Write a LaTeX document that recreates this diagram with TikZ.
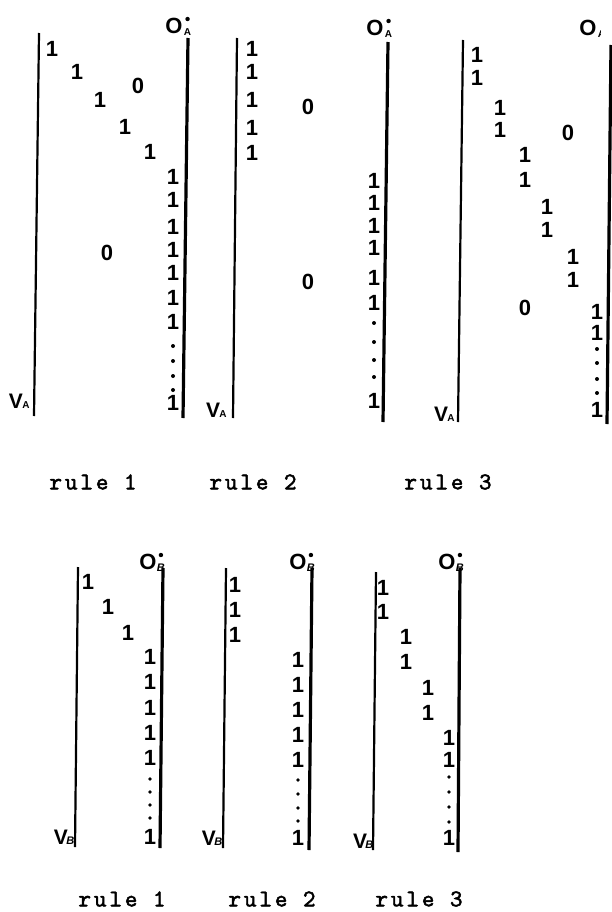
\documentclass[tikz,border=0pt]{standalone}
\usepackage{fontspec}
\setmainfont{Liberation Sans}
\newfontfamily\typewr{lmmono10-regular.otf}[LetterSpace=12, FakeBold=2]
\usetikzlibrary{positioning}
\tikzset{
  bit/.style={font=\bfseries\fontsize{22}{22}\selectfont, inner sep=0pt},
  olab/.style={font=\bfseries\fontsize{22}{22}\selectfont, inner sep=0pt},
  vlab/.style={font=\bfseries\fontsize{21}{21}\selectfont, inner sep=0pt},
  subup/.style={font=\bfseries\fontsize{10}{10}\selectfont, inner sep=0pt},
  subit/.style={font=\bfseries\itshape\fontsize{11}{11}\selectfont, inner sep=0pt},
  lwall/.style={line width=2.2pt},
  rwall/.style={line width=3.2pt},
  rulelab/.style={font=\typewr\fontsize{24}{24}\selectfont, inner sep=0pt},
  vdot/.style={fill=black},
}

\begin{document}
\begin{tikzpicture}[x=1pt, y=-1pt]
        \useasboundingbox (0,0) rectangle (612,912);

        \draw[lwall] (39,33) -- (34,416);
        \draw[rwall] (188,38) -- (183,418);
        \node[olab] (oa1) at (174,26) {O};
        \node[subup, anchor=south west] (oa1s) at ([xshift=1pt,yshift=-2pt]oa1.south east) {A};
        \fill[vdot] ([yshift=-1pt]oa1s.north |- oa1.north) circle (2.2);
        \node[vlab] (va1) at (16,401) {V};
        \node[subup, anchor=south west] (va1s) at ([xshift=-1pt]va1.south east) {A};
        \node[bit] (a1d1) at (52,49) {1};
        \node[bit] (a1d2) at (77,72) {1};
        \node[bit] (a1d3) at (100,100) {1};
        \node[bit] (a1d4) at (125,127) {1};
        \node[bit] (a1d5) at (150,152) {1};
        \node[bit] (a1z1) at (138,86) {0};
        \node[bit] (a1z2) at (107,253) {0};
        \foreach \y [count=\i] in {177,200,227,250,273,298,322}
          \node[bit] (a1c\i) at (173,\y) {1};
        \foreach \y in {346,361,376,390}
          \fill[vdot] (173,\y) circle (2);
        \node[bit] (a1end) at (173,403) {1};

        \draw[lwall] (237,38) -- (233,418);
        \draw[rwall] (388,42) -- (383,422);
        \node[olab] (oa2) at (375,28) {O};
        \node[subup, anchor=south west] (oa2s) at ([xshift=1pt,yshift=-2pt]oa2.south east) {A};
        \fill[vdot] ([yshift=-1pt]oa2s.north |- oa2.north) circle (2.2);
        \node[vlab] (va2) at (213,410) {V};
        \node[subup, anchor=south west] (va2s) at ([xshift=-1pt]va2.south east) {A};
        \foreach \y [count=\i] in {49,72,100,128,153}
          \node[bit] (a2d\i) at (252,\y) {1};
        \node[bit] (a2z1) at (308,107) {0};
        \node[bit] (a2z2) at (308,282) {0};
        \foreach \y [count=\i] in {181,203,226,248,278,303}
          \node[bit] (a2c\i) at (374,\y) {1};
        \foreach \y in {323,342,360,377}
          \fill[vdot] (374,\y) circle (2);
        \node[bit] (a2end) at (374,401) {1};

        \draw[lwall] (463,40) -- (458,422);
        \draw[rwall] (611,45) -- (607,424);
        \begin{scope}
          \clip (560,0) rectangle (600,40);
          \node[olab] (oa3) at (588,28) {O};
          \node[subup, anchor=south west] (oa3s) at ([xshift=1pt,yshift=-2pt]oa3.south east) {A};
        \end{scope}
        \node[vlab] (va3) at (441,414) {V};
        \node[subup, anchor=south west] (va3s) at ([xshift=-1pt]va3.south east) {A};
        \node[bit] (a3d1) at (477,55) {1};
        \node[bit] (a3d2) at (477,78) {1};
        \node[bit] (a3d3) at (500,108) {1};
        \node[bit] (a3d4) at (500,130) {1};
        \node[bit] (a3d5) at (525,155) {1};
        \node[bit] (a3d6) at (525,180) {1};
        \node[bit] (a3d7) at (547,207) {1};
        \node[bit] (a3d8) at (547,230) {1};
        \node[bit] (a3d9) at (573,257) {1};
        \node[bit] (a3d10) at (573,280) {1};
        \node[bit] (a3z1) at (568,133) {0};
        \node[bit] (a3z2) at (525,308) {0};
        \node[bit] (a3c1) at (597,312) {1};
        \node[bit] (a3c2) at (597,333) {1};
        \foreach \y in {349,363,379,393}
          \fill[vdot] (597,\y) circle (2);
        \node[bit] (a3end) at (597,410) {1};

        \node[rulelab] (ra1) at (93,482) {rule 1};
        \node[rulelab] (ra2) at (253,482) {rule 2};
        \node[rulelab] (ra3) at (448,482) {rule 3};

        \draw[lwall] (78,567) -- (75,847);
        \draw[rwall] (163,568) -- (160,848);
        \node[olab] (ob1) at (148,562) {O};
        \node[subit, anchor=south west] (ob1s) at ([xshift=0pt,yshift=-2pt]ob1.south east) {B};
        \fill[vdot] ([yshift=-1pt]ob1s.north |- ob1.north) circle (2.2);
        \node[vlab] (vb1) at (61,837) {V};
        \node[subit, anchor=south west] (vb1s) at ([xshift=-2pt]vb1.south east) {B};
        \node[bit] (b1d1) at (88,582) {1};
        \node[bit] (b1d2) at (108,607) {1};
        \node[bit] (b1d3) at (128,633) {1};
        \foreach \y [count=\i] in {657,682,708,733,758}
          \node[bit] (b1c\i) at (150,\y) {1};
        \foreach \y in {779,792,805,818}
          \fill[vdot] (150,\y) circle (1.8);
        \node[bit] (b1end) at (150,837) {1};

        \draw[lwall] (226,568) -- (223,848);
        \draw[rwall] (312,568) -- (309,850);
        \node[olab] (ob2) at (298,562) {O};
        \node[subit, anchor=south west] (ob2s) at ([xshift=0pt,yshift=-2pt]ob2.south east) {B};
        \fill[vdot] ([yshift=-1pt]ob2s.north |- ob2.north) circle (2.2);
        \node[vlab] (vb2) at (209,838) {V};
        \node[subit, anchor=south west] (vb2s) at ([xshift=-2pt]vb2.south east) {B};
        \foreach \y [count=\i] in {585,610,635}
          \node[bit] (b2d\i) at (235,\y) {1};
        \foreach \y [count=\i] in {660,685,710,735,760}
          \node[bit] (b2c\i) at (298,\y) {1};
        \foreach \y in {780,794,808,821}
          \fill[vdot] (298,\y) circle (1.8);
        \node[bit] (b2end) at (298,838) {1};

        \draw[lwall] (376,572) -- (373,850);
        \draw[rwall] (460,568) -- (458,852);
        \node[olab] (ob3) at (447,562) {O};
        \node[subit, anchor=south west] (ob3s) at ([xshift=0pt,yshift=-2pt]ob3.south east) {B};
        \fill[vdot] ([yshift=-1pt]ob3s.north |- ob3.north) circle (2.2);
        \node[vlab] (vb3) at (360,841) {V};
        \node[subit, anchor=south west] (vb3s) at ([xshift=-2pt]vb3.south east) {B};
        \node[bit] (b3d1) at (383,588) {1};
        \node[bit] (b3d2) at (383,612) {1};
        \node[bit] (b3d3) at (406,637) {1};
        \node[bit] (b3d4) at (406,662) {1};
        \node[bit] (b3d5) at (428,688) {1};
        \node[bit] (b3d6) at (428,713) {1};
        \node[bit] (b3c1) at (449,738) {1};
        \node[bit] (b3c2) at (449,760) {1};
        \foreach \y in {777,792,807,822}
          \fill[vdot] (449,\y) circle (1.8);
        \node[bit] (b3end) at (449,838) {1};

        \node[rulelab] (rb1) at (122,899) {rule 1};
        \node[rulelab] (rb2) at (272,899) {rule 2};
        \node[rulelab] (rb3) at (419,899) {rule 3};
      \end{tikzpicture}
\end{document}
